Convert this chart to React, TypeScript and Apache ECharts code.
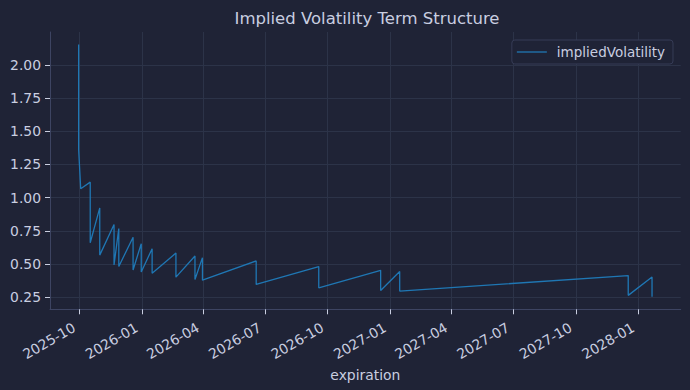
import React, { useEffect, useRef } from "react";
import * as echarts from "echarts";

const expirations: string[] = [
  "2025-09-30", "2025-09-30", "2025-10-03", "2025-10-17", "2025-10-17",
  "2025-10-31", "2025-10-31", "2025-11-21", "2025-11-21", "2025-11-28",
  "2025-11-28", "2025-12-19", "2025-12-19", "2025-12-31", "2025-12-31",
  "2026-01-16", "2026-01-16", "2026-02-20", "2026-02-20", "2026-03-20",
  "2026-03-20", "2026-03-31", "2026-03-31", "2026-06-18", "2026-06-18",
  "2026-09-18", "2026-09-18", "2026-12-18", "2026-12-18", "2027-01-15",
  "2027-01-15", "2027-12-17", "2027-12-17", "2028-01-21", "2028-01-21",
];

const impliedVolatility: number[] = [
  2.152, 1.36, 1.067, 1.117, 0.661,
  0.923, 0.568, 0.798, 0.494, 0.768,
  0.482, 0.703, 0.456, 0.654, 0.441,
  0.616, 0.432, 0.583, 0.402, 0.561,
  0.384, 0.549, 0.379, 0.524, 0.347,
  0.482, 0.322, 0.454, 0.302, 0.444,
  0.297, 0.414, 0.265, 0.404, 0.255,
];

const xTickLabels: string[] = [
  "2025-10", "2026-01", "2026-04", "2026-07", "2026-10",
  "2027-01", "2027-04", "2027-07", "2027-10", "2028-01",
];

const yTickValues: number[] = [0.25, 0.5, 0.75, 1.0, 1.25, 1.5, 1.75, 2.0];

const BG = "#1f2336";
const GRID = "#2c3348";
const SPINE = "#3d4462";
const TEXT = "#c9cee0";
const LINE = "#1f77b4";
const FONT = "DejaVu Sans";

function toTs(s: string): number {
  const [y, m, d] = s.split("-").map(Number);
  return Date.UTC(y, m - 1, d || 1);
}

export default function App() {
  const ref = useRef<HTMLDivElement>(null);

  useEffect(() => {
    if (!ref.current) return;
    const chart = echarts.init(ref.current, undefined, { renderer: "svg" });

    const xs = expirations.map(toTs);
    const xMinD = Math.min(...xs);
    const xMaxD = Math.max(...xs);
    const xPad = (xMaxD - xMinD) * 0.05;
    const yMinD = Math.min(...impliedVolatility);
    const yMaxD = Math.max(...impliedVolatility);
    const yPad = (yMaxD - yMinD) * 0.05;

    const xTicks = xTickLabels.map(toTs);

    const fmt = (v: number) => {
      const d = new Date(v);
      const m = d.getUTCMonth() + 1;
      return `${d.getUTCFullYear()}-${m < 10 ? "0" + m : m}`;
    };

    chart.setOption({
      animation: false,
      backgroundColor: BG,
      textStyle: { fontFamily: FONT },
      title: {
        text: "Implied Volatility Term Structure",
        left: 362,
        textAlign: "center",
        top: 5,
        textStyle: { color: TEXT, fontSize: 16.5, fontWeight: "normal", fontFamily: FONT },
      },
      legend: {
        right: 17,
        top: 40,
        orient: "vertical",
        padding: [5, 8, 5, 5],
        itemWidth: 30,
        itemHeight: 12,
        backgroundColor: BG,
        borderColor: "#363c56",
        borderWidth: 1,
        borderRadius: 3,
        textStyle: { color: TEXT, fontSize: 13.5, fontFamily: FONT, padding: [0, 0, 0, 5] },
        data: [{ name: "impliedVolatility", icon: "path://M0,0 L30,0 L30,1.3 L0,1.3 Z" }],
        itemStyle: { color: LINE },
      },
      grid: { left: 50, right: 9.3, top: 32, bottom: 80.7, containLabel: false },
      xAxis: {
        type: "value",
        min: xMinD - xPad,
        max: xMaxD + xPad,
        name: "expiration",
        nameLocation: "middle",
        nameGap: 55,
        nameTextStyle: { color: TEXT, fontSize: 13.9, fontFamily: FONT },
        axisLine: { show: true, onZero: false, lineStyle: { color: SPINE, width: 1 } },
        axisTick: {
          show: true,
          length: 5,
          customValues: xTicks,
          lineStyle: { color: TEXT, width: 1 },
        },
        axisLabel: {
          customValues: xTicks,
          rotate: 30,
          margin: 14,
          padding: [0, 6, 0, 0],
          color: TEXT,
          fontSize: 13.9,
          fontFamily: FONT,
          formatter: (v: number) => fmt(v),
        },
        splitLine: { show: true, lineStyle: { color: GRID, width: 1 } },
      },
      yAxis: {
        type: "value",
        min: yMinD - yPad,
        max: yMaxD + yPad,
        axisLine: { show: true, onZero: false, lineStyle: { color: SPINE, width: 1 } },
        axisTick: {
          show: true,
          length: 5,
          customValues: yTickValues,
          lineStyle: { color: TEXT, width: 1 },
        },
        axisLabel: {
          customValues: yTickValues,
          margin: 9,
          color: TEXT,
          fontSize: 13.9,
          fontFamily: FONT,
          formatter: (v: number) => v.toFixed(2),
        },
        splitLine: { show: true, lineStyle: { color: GRID, width: 1 } },
      },
      series: [
        {
          name: "impliedVolatility",
          type: "line",
          symbol: "none",
          showSymbol: false,
          lineStyle: { color: LINE, width: 1.3 },
          itemStyle: { color: LINE },
          data: xs.map((x, i) => [x, impliedVolatility[i]]),
        },
      ],
    });

    return () => chart.dispose();
  }, []);

  return <div ref={ref} style={{ width: 690, height: 390, position: "fixed", left: 0, top: 0 }} />;
}
